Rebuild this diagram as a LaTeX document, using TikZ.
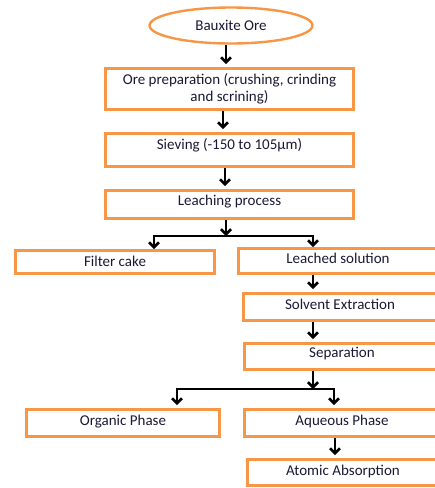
\documentclass[tikz,border=0pt]{standalone}
\usepackage{fontspec}
\setmainfont{Carlito}
\usetikzlibrary{arrows.meta,shapes.geometric}
\definecolor{boxorange}{HTML}{F79646}
\definecolor{inkblue}{HTML}{1A1935}

\begin{document}
\begin{tikzpicture}[x=1pt,y=-1pt,
    stepbox/.style={draw=boxorange,line width=2.8pt,inner sep=0pt,text=inkblue,
        font=\fontsize{15}{17}\selectfont},
    lift/.style={text height=10pt,text depth=#1},
    flow/.style={line width=2.6pt,-{Straight Barb[length=5pt,width=10pt,line width=2.6pt]}},
    gap/.style={shorten >=3pt}]
    \useasboundingbox (0,0) rectangle (435,488);
    \clip (0,0) rectangle (435,488);

    % main column
    \node[stepbox,ellipse,line width=2.4pt,minimum width=163pt,minimum height=36pt] (ore) at (231,25.5) {Bauxite Ore};
    \node[stepbox,align=center,minimum width=248pt,minimum height=41pt] (prep) at (229.5,89) {Ore preparation (crushing, crinding\\and scrining)};
    \node[stepbox,lift=12pt,minimum width=248pt,minimum height=33pt] (sieve) at (229.5,150) {Sieving (-150 to 105µm)};
    \node[stepbox,lift=9pt,minimum width=248pt,minimum height=28pt] (leach) at (229.5,204.5) {Leaching process};

    % first split
    \node[stepbox,lift=2pt,minimum width=199pt,minimum height=23pt] (filter) at (115,262) {Filter cake};
    \node[stepbox,lift=6pt,minimum width=199pt,minimum height=25pt] (leached) at (338,261) {Leached solution};
    \node[stepbox,lift=6pt,minimum width=193pt,minimum height=27pt] (solvent) at (340,307) {Solvent Extraction};
    \node[stepbox,lift=9pt,minimum width=195pt,minimum height=26pt] (separation) at (342,356.5) {Separation};

    % second split
    \node[stepbox,lift=6pt,minimum width=193pt,minimum height=27pt] (organic) at (123,423) {Organic Phase};
    \node[stepbox,lift=6pt,minimum width=195pt,minimum height=27pt] (aqueous) at (342,423) {Aqueous Phase};
    \node[stepbox,lift=5pt,minimum width=191pt,minimum height=26pt] (atomic) at (343,472.5) {Atomic Absorption};

    \coordinate (split1) at (226,236);
    \coordinate (split2) at (313,389);

    \draw[flow,gap] ([xshift=-5pt]ore.south) -- ([xshift=-5pt]ore.south |- prep.north);
    \draw[flow,gap] ([xshift=-6.5pt]prep.south) -- ([xshift=-6.5pt]prep.south |- sieve.north);
    \draw[flow,gap] ([xshift=-4.5pt]sieve.south) -- ([xshift=-4.5pt]sieve.south |- leach.north);
    \draw[flow] ([xshift=-3.5pt]leach.south) -- (split1);
    \draw[flow] (split1) -| ([xshift=39pt]filter.north);
    \draw[flow] (split1) -| ([xshift=-25pt]leached.north);
    \draw[flow,gap] ([xshift=-25pt]leached.south) -- ([xshift=-25pt]leached.south |- solvent.north);
    \draw[flow,gap] ([xshift=-27pt]solvent.south) -- ([xshift=-27pt]solvent.south |- separation.north);
    \draw[flow] ([xshift=-29pt]separation.south) -- (split2);
    \draw[flow,gap] (split2) -| ([xshift=54pt]organic.north);
    \draw[flow,gap] (split2) -| ([xshift=-8pt]aqueous.north);
    \draw[flow,gap] ([xshift=-7pt]aqueous.south) -- ([xshift=-7pt]aqueous.south |- atomic.north);
\end{tikzpicture}
\end{document}
